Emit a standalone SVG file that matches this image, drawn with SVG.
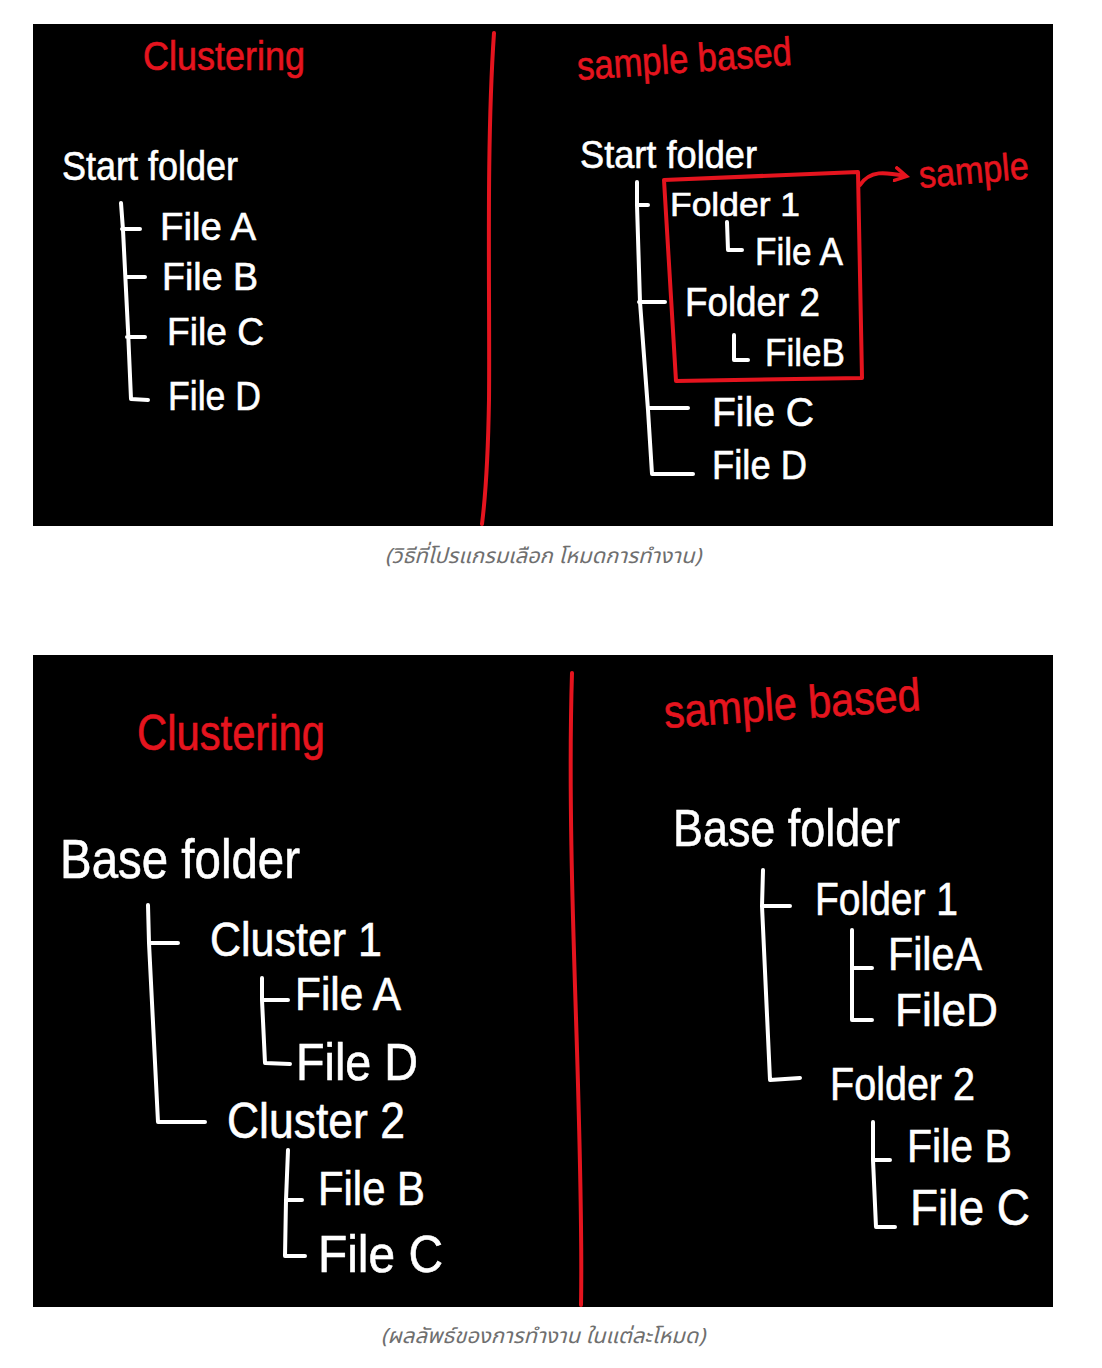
<svg xmlns="http://www.w3.org/2000/svg" width="1102" height="1368" viewBox="0 0 1102 1368">
<style>
.bg{fill:#000}
.w{fill:#fff;stroke:#fff;stroke-width:0.6;font-family:"Liberation Sans","DejaVu Sans",sans-serif}
.r{fill:#e5141e;stroke:#e5141e;stroke-width:0.6;font-family:"Liberation Sans","DejaVu Sans",sans-serif}
.wl{fill:none;stroke:#fff;stroke-width:4;stroke-linecap:round;stroke-linejoin:round}
.rl{fill:none;stroke:#e5141e;stroke-width:4;stroke-linecap:round;stroke-linejoin:round}
.cap{fill:#6f6f6f;font-family:"Noto Sans Thai","Noto Sans","DejaVu Sans",sans-serif;font-style:italic;font-size:21px}
</style>
<defs>
<marker id="ah" viewBox="0 0 10 10" refX="7" refY="5" markerWidth="4" markerHeight="4" orient="auto"><path d="M1,1 L8,5 L1,9" fill="none" stroke="#e5141e" stroke-width="2.2" stroke-linecap="round"/></marker>
</defs>
<rect width="1102" height="1368" fill="#fff"/>

<!-- Top panel -->
<g id="panel1">
<rect class="bg" x="33" y="24" width="1020" height="502"/>
<path class="rl" d="M494,33 C486,150 490,300 489,400 C488,460 485,500 482,524"/>
<g id="t-clustering"><text class="r" x="143" y="70" font-size="40" textLength="162" lengthAdjust="spacingAndGlyphs">Clustering</text></g>
<g id="t-sample-based"><text class="r" x="578" y="80" font-size="40" textLength="215" lengthAdjust="spacingAndGlyphs" transform="rotate(-4 578 80)">sample based</text></g>
<g id="n-start1"><text class="w" x="62" y="180" font-size="40" textLength="176" lengthAdjust="spacingAndGlyphs">Start folder</text></g>
<g id="n-fileA1"><text class="w" x="160" y="240" font-size="38" textLength="96" lengthAdjust="spacingAndGlyphs">File A</text></g>
<g id="n-fileB1"><text class="w" x="162" y="290" font-size="38" textLength="96" lengthAdjust="spacingAndGlyphs">File B</text></g>
<g id="n-fileC1"><text class="w" x="167" y="345" font-size="38" textLength="97" lengthAdjust="spacingAndGlyphs">File C</text></g>
<g id="n-fileD1"><text class="w" x="168" y="410" font-size="40" textLength="93" lengthAdjust="spacingAndGlyphs">File D</text></g>

<g id="n-start2"><text class="w" x="580" y="168" font-size="38" textLength="177" lengthAdjust="spacingAndGlyphs">Start folder</text></g>
<g id="n-folder1"><text class="w" x="670" y="216" font-size="34" textLength="130" lengthAdjust="spacingAndGlyphs">Folder 1</text></g>
<g id="n-fileA2"><text class="w" x="755" y="265" font-size="38" textLength="88" lengthAdjust="spacingAndGlyphs">File A</text></g>
<g id="n-folder2"><text class="w" x="685" y="316" font-size="40" textLength="135" lengthAdjust="spacingAndGlyphs">Folder 2</text></g>
<g id="n-fileB2"><text class="w" x="765" y="366" font-size="38" textLength="80" lengthAdjust="spacingAndGlyphs">FileB</text></g>
<g id="n-fileC2"><text class="w" x="712" y="426" font-size="40" textLength="102" lengthAdjust="spacingAndGlyphs">File C</text></g>
<g id="n-fileD2"><text class="w" x="712" y="479" font-size="40" textLength="95" lengthAdjust="spacingAndGlyphs">File D</text></g>
<g id="n-sample-box"><path class="rl" d="M664,180 L858,172 L862,378 L676,381 Z"/></g>
<g id="t-sample"><text class="r" x="920" y="188" font-size="38" textLength="110" lengthAdjust="spacingAndGlyphs" transform="rotate(-5 920 188)">sample</text></g>
</g>

<!-- Bottom panel -->
<g id="panel2">
<rect class="bg" x="33" y="655" width="1020" height="652"/>
<path class="rl" d="M572,673 C568,800 574,950 577,1050 C580,1150 582,1250 581,1305"/>
<g id="t-clustering2"><text class="r" x="137" y="750" font-size="50" textLength="188" lengthAdjust="spacingAndGlyphs">Clustering</text></g>
<g id="t-sample-based2"><text class="r" x="665" y="728" font-size="46" textLength="257" lengthAdjust="spacingAndGlyphs" transform="rotate(-4 665 728)">sample based</text></g>
<g id="n-base1"><text class="w" x="60" y="878" font-size="56" textLength="240" lengthAdjust="spacingAndGlyphs">Base folder</text></g>
<g id="n-cluster1"><text class="w" x="210" y="956" font-size="48" textLength="172" lengthAdjust="spacingAndGlyphs">Cluster 1</text></g>
<g id="n-fileA3"><text class="w" x="295" y="1010" font-size="46" textLength="106" lengthAdjust="spacingAndGlyphs">File A</text></g>
<g id="n-fileD3"><text class="w" x="296" y="1080" font-size="52" textLength="122" lengthAdjust="spacingAndGlyphs">File D</text></g>
<g id="n-cluster2"><text class="w" x="227" y="1138" font-size="50" textLength="178" lengthAdjust="spacingAndGlyphs">Cluster 2</text></g>
<g id="n-fileB3"><text class="w" x="318" y="1205" font-size="48" textLength="107" lengthAdjust="spacingAndGlyphs">File B</text></g>
<g id="n-fileC3"><text class="w" x="318" y="1272" font-size="52" textLength="125" lengthAdjust="spacingAndGlyphs">File C</text></g>

<g id="n-base2"><text class="w" x="673" y="846" font-size="52" textLength="227" lengthAdjust="spacingAndGlyphs">Base folder</text></g>
<g id="n-folder3"><text class="w" x="815" y="915" font-size="46" textLength="143" lengthAdjust="spacingAndGlyphs">Folder 1</text></g>
<g id="n-fileA4"><text class="w" x="888" y="970" font-size="46" textLength="94" lengthAdjust="spacingAndGlyphs">FileA</text></g>
<g id="n-fileD4"><text class="w" x="895" y="1026" font-size="46" textLength="103" lengthAdjust="spacingAndGlyphs">FileD</text></g>
<g id="n-folder4"><text class="w" x="830" y="1100" font-size="46" textLength="145" lengthAdjust="spacingAndGlyphs">Folder 2</text></g>
<g id="n-fileB4"><text class="w" x="907" y="1162" font-size="46" textLength="105" lengthAdjust="spacingAndGlyphs">File B</text></g>
<g id="n-fileC4"><text class="w" x="910" y="1225" font-size="50" textLength="120" lengthAdjust="spacingAndGlyphs">File C</text></g>
</g>

<!-- Connectors -->
<g id="connectors">
<path class="wl" d="M121,203 L123,230 M122,229 L140,229 M123,230 L128,330 M126,277 L145,277 M127,337 L145,337 M128,330 L131,399 L148,400"/>
<path class="wl" d="M637,182 L637,205 M637,205 L648,205 M637,205 L640,302 L648,410 M639,302 L665,302 M648,408 L688,408 M648,410 L652,474 L693,474"/>
<path class="wl" d="M727,222 L728,250 L742,250"/>
<path class="wl" d="M734,335 L734,360 L748,360"/>
<path class="rl" d="M860,185 C870,170 885,172 905,176" marker-end="url(#ah)"/>

<path class="wl" d="M148,905 L149,943 L178,943 M149,943 L158,1122 L205,1122"/>
<path class="wl" d="M262,978 L262,1000 L288,1000 M262,1000 L265,1063 L290,1064"/>
<path class="wl" d="M288,1150 L286,1200 L302,1200 M286,1200 L285,1256 L305,1256"/>

<path class="wl" d="M763,870 L762,906 L790,906 M762,906 L770,1080 L800,1078"/>
<path class="wl" d="M852,930 L852,968 L872,968 M852,968 L852,1020 L872,1020"/>
<path class="wl" d="M873,1122 L873,1160 L890,1160 M873,1160 L876,1227 L895,1227"/>
</g>

<g id="captions">
<text class="cap" x="385" y="563" textLength="316" lengthAdjust="spacingAndGlyphs">(วิธีที่โปรแกรมเลือก โหมดการทำงาน)</text>
<text class="cap" x="381" y="1343" textLength="324" lengthAdjust="spacingAndGlyphs">(ผลลัพธ์ของการทำงาน ในแต่ละโหมด)</text>
</g>
</svg>
